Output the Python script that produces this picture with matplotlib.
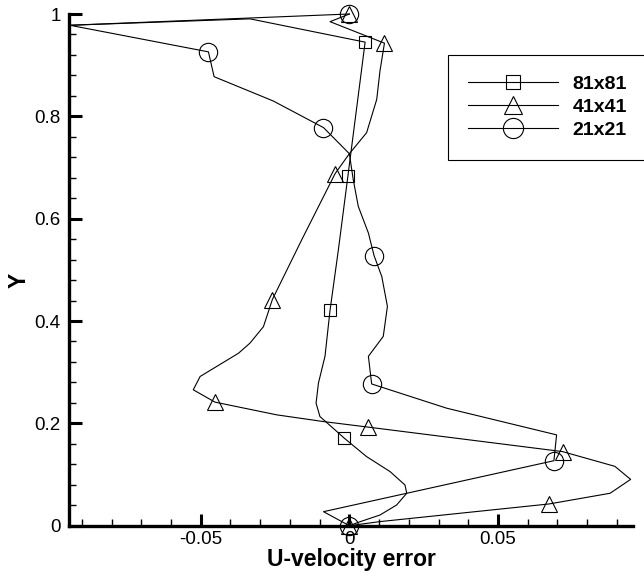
import matplotlib
matplotlib.use("Agg")
import matplotlib.pyplot as plt
from matplotlib.ticker import MultipleLocator

plt.rcParams['font.family'] = ['Liberation Sans', 'DejaVu Sans']

# 81x81 grid: u-velocity error along the centre line
x81 = [-0.094, -0.0334, 0.0053, -0.0005, -0.0037, -0.0065, -0.0082, -0.0104,
       -0.0112, -0.0099, -0.0042, -0.0017, 0.0058, 0.0137, 0.0187, 0.0193,
       0.0159, 0.0103, 0.0036, 0.0]
y81 = [0.978, 0.9905, 0.945, 0.683, 0.539, 0.421, 0.331, 0.2787,
       0.2395, 0.2133, 0.184, 0.171, 0.135, 0.1057, 0.0796, 0.0634,
       0.0405, 0.0209, 0.0078, 0.0]
marks81 = [2, 3, 5, 11]

# 41x41 grid
x41 = [0.0, -0.0065, 0.0118, 0.0103, 0.0092, 0.0058, 0.0, -0.0048, -0.016,
       -0.0259, -0.0289, -0.0334, -0.0373, -0.0502, -0.0525, -0.0452, -0.0244,
       -0.0087, 0.0064, 0.0717, 0.0893, 0.0946, 0.0877, 0.0672, 0.0103, 0.0]
y41 = [1.0, 0.985, 0.943, 0.889, 0.833, 0.768, 0.727, 0.688, 0.559,
       0.442, 0.389, 0.357, 0.337, 0.2916, 0.2656, 0.2415, 0.2166,
       0.2035, 0.1926, 0.1448, 0.116, 0.0905, 0.0634, 0.0425, 0.008, 0.0]
marks41 = [0, 2, 7, 9, 15, 18, 19, 23, 25]

# 21x21 grid
x21 = [0.0, -0.094, -0.0474, -0.0455, -0.0256, -0.0087, 0.0, 0.0013, 0.003,
       0.0064, 0.0083, 0.0109, 0.0128, 0.0114, 0.0064, 0.0075, 0.0327,
       0.0697, 0.0688, -0.0087, 0.0]
y21 = [1.0, 0.978, 0.926, 0.8775, 0.830, 0.778, 0.727, 0.6765, 0.624,
       0.572, 0.528, 0.487, 0.4286, 0.370, 0.331, 0.277, 0.2297,
       0.1775, 0.127, 0.0274, 0.0]
marks21 = [0, 2, 5, 10, 15, 18, 20]

labels = ['81x81', '41x41', '21x21']
xticks = [-0.05, 0.0, 0.05]
xtick_labels = ['-0.05', '0', '0.05']
yticks = [0.0, 0.2, 0.4, 0.6, 0.8, 1.0]
ytick_labels = ['0', '0.2', '0.4', '0.6', '0.8', '1']

fig = plt.figure(figsize=(6.44, 5.76), dpi=100)
ax = fig.add_axes([69 / 644, 1 - 525.7 / 576, 564 / 644, 511.7 / 576])

series = [(x81, y81, marks81, 's', 9.2),
          (x41, y41, marks41, '^', 11.5),
          (x21, y21, marks21, 'o', 13.2)]
for (x, y, marks, marker, ms), lab in zip(series, labels):
    ax.plot(x, y, color='black', lw=0.8, marker=marker, markevery=marks,
            ms=ms, mfc='none', mec='black', mew=0.8, label=lab, clip_on=False)

ax.set_xlim(-0.0943, 0.0954)
ax.set_ylim(0, 1)

for side in ['top', 'right']:
    ax.spines[side].set_visible(False)
for side in ['left', 'bottom']:
    ax.spines[side].set_linewidth(2.4)

ax.set_xticks(xticks, labels=xtick_labels)
ax.set_yticks(yticks, labels=ytick_labels)
ax.xaxis.set_minor_locator(MultipleLocator(0.01))
ax.yaxis.set_minor_locator(MultipleLocator(0.04))
ax.tick_params(which='major', direction='in', length=9, width=2.2,
               labelsize=13.5, top=False, right=False)
ax.tick_params(which='minor', direction='in', length=5, width=1,
               top=False, right=False)
ax.tick_params(axis='x', which='major', pad=4)
ax.tick_params(axis='y', which='major', pad=6)

ax.set_xlabel('U-velocity error', fontsize=16.5, fontweight='bold')
ax.set_ylabel('Y', fontsize=16.5, fontweight='bold')
ax.xaxis.set_label_coords(0.5, -0.044)
ax.yaxis.set_label_coords(-0.068, 0.48)

leg = ax.legend(loc='upper left', bbox_to_anchor=(448 / 644, 1 - 55 / 576),
                bbox_transform=fig.transFigure, prop={'weight': 'bold', 'size': 14},
                handlelength=4.6, handletextpad=0.75, labelspacing=0.28,
                borderpad=1.05, borderaxespad=0, fancybox=False,
                edgecolor='black', framealpha=1, markerscale=1.1)
leg.get_frame().set_linewidth(0.8)

fig.savefig('out.png', dpi=100)
